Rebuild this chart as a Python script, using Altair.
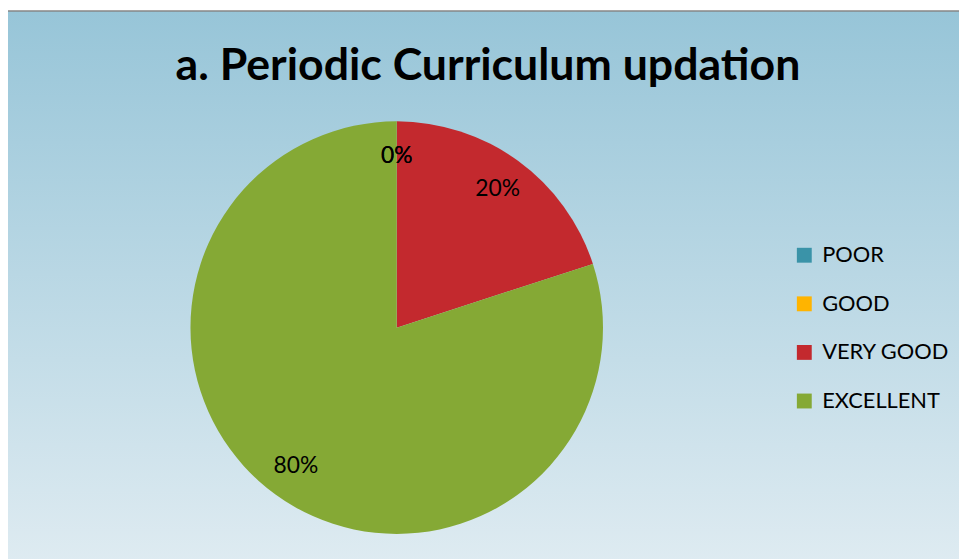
import altair as alt
import pandas as pd

TITLE = "a. Periodic Curriculum updation"
categories = ["POOR", "GOOD", "VERY GOOD", "EXCELLENT"]
values = [0, 0, 20, 80]
labels = ["0%", "0%", "20%", "80%"]
colors = ["#3A93A8", "#FFB400", "#C3292E", "#85A935"]

W, H = 959, 551
CX, CY = 392, 320
R = 208
FONT = "Lato"

df = pd.DataFrame({"category": categories, "value": values, "label": labels,
                   "order": list(range(len(categories)))})

bg = alt.Chart(pd.DataFrame({"a": [0]})).mark_rect(
    fill=alt.Gradient(
        gradient="linear",
        stops=[alt.GradientStop(color="#97C5D8", offset=0),
               alt.GradientStop(color="#E0ECF2", offset=1)],
        x1=0, x2=0, y1=0, y2=1),
    stroke="#878787", strokeWidth=1.5,
).encode(x=alt.value(-4), x2=alt.value(W + 20), y=alt.value(0.75), y2=alt.value(H + 20))

title = alt.Chart(pd.DataFrame({"t": [TITLE]})).mark_text(
    font=FONT, fontWeight="bold", fontSize=45, color="black", baseline="alphabetic", align="center"
).encode(text="t:N", x=alt.value(484), y=alt.value(70))

base = alt.Chart(df)
color = alt.Color("category:N", scale=alt.Scale(domain=categories, range=colors),
                  legend=alt.Legend(title=None, orient="none", legendX=792, legendY=236,
                                    symbolType="square", symbolSize=225, symbolStrokeWidth=0,
                                    labelFontSize=22, labelFont=FONT, labelColor="black",
                                    labelOffset=7, rowPadding=27, padding=0))
theta = alt.Theta("value:Q", stack=True)
order = alt.Order("order:Q")

pie = base.mark_arc(outerRadius=R).encode(
    theta=theta, color=color, order=order, x=alt.value(CX), y=alt.value(CY))
text = base.mark_text(radius=173, fontSize=23, font=FONT, color="black").encode(
    theta=theta, text="label:N", order=order, x=alt.value(CX), y=alt.value(CY))

chart = alt.layer(bg, title, pie, text).properties(
    width=W, height=H, padding=0, autosize=alt.AutoSizeParams(type="none")
).configure_view(stroke=None)

chart.save("out.html", embed_options={"renderer": "svg", "actions": False})
